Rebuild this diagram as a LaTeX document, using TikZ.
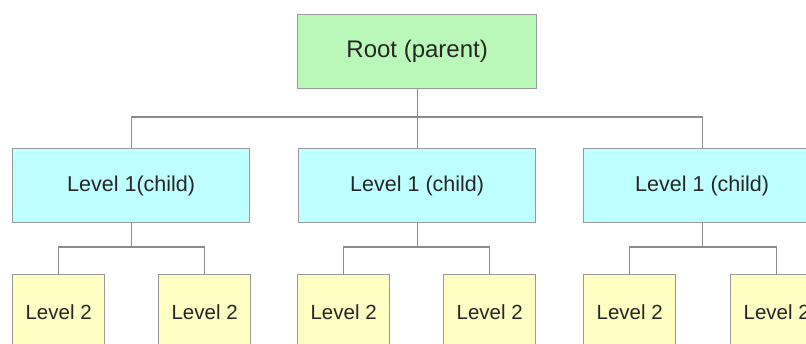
\documentclass[tikz,border=0pt]{standalone}
\usepackage{fontspec}
\setmainfont{Liberation Sans}
\begin{document}
\begin{tikzpicture}[x=1pt,y=-1pt,
  box/.style={draw=black!40, line width=1.3pt, inner sep=0pt, text=black!85, anchor=north west},
  rootbox/.style={box, fill={rgb,255:red,186;green,248;blue,186}, minimum width=239pt, minimum height=74pt, font=\fontsize{24}{28}\selectfont},
  childbox/.style={box, fill={rgb,255:red,190;green,255;blue,255}, minimum width=237pt, minimum height=74pt, font=\fontsize{21.5}{26}\selectfont},
  leafbox/.style={box, fill={rgb,255:red,255;green,255;blue,195}, minimum width=92pt, minimum height=76pt, font=\fontsize{20.5}{24}\selectfont},
  link/.style={draw=black!45, line width=1.2pt}]
\useasboundingbox (0,0) rectangle (806,344);
\clip (0,0) rectangle (806,344);
% root
\node[rootbox] (root) at (297,14) {Root (parent)};
% first level
\node[childbox] (c1) at (12,148)  {Level 1(child)};
\node[childbox] (c2) at (298,148) {Level 1 (child)};
\node[childbox] (c3) at (583,148) {Level 1 (child)};
% second level
\node[leafbox] (g11) at (12,274)  {Level 2};
\node[leafbox] (g12) at (158,274) {Level 2};
\node[leafbox] (g21) at (297,274) {Level 2};
\node[leafbox] (g22) at (443,274) {Level 2};
\node[leafbox] (g31) at (583,274) {Level 2};
\node[leafbox] (g32) at (730,274) {Level 2};
% connectors
\coordinate (bus) at (0,117);
\coordinate (sub) at (0,247);
\draw[link] (root.south) -- (c2.north);
\draw[link] (c1.north) |- (c3.north |- bus) -- (c3.north);
\foreach \p/\a/\b in {c1/g11/g12, c2/g21/g22, c3/g31/g32}{
  \draw[link] (\p.south) -- (\p.south |- sub);
  \draw[link] (\a.north) |- (\b.north |- sub) -- (\b.north);
}
\end{tikzpicture}
\end{document}
